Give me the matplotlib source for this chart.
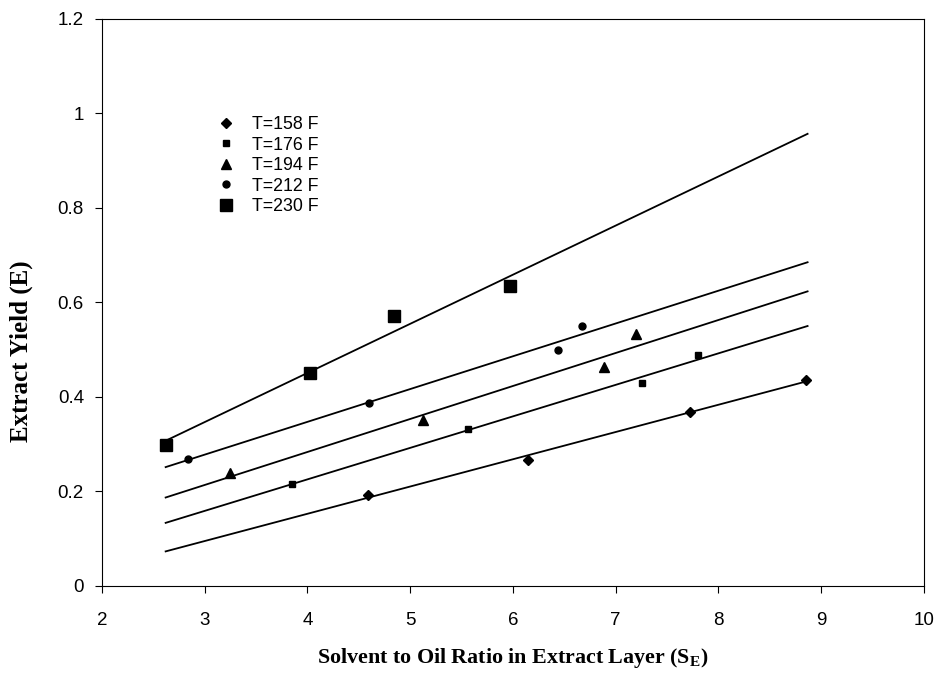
import numpy as np
import matplotlib.pyplot as plt

# data
labels = ['T=158 F', 'T=176 F', 'T=194 F', 'T=212 F', 'T=230 F']
x158 = [4.59, 6.15, 7.73, 8.85]
y158 = [0.193, 0.267, 0.368, 0.436]
x176 = [3.85, 5.56, 7.26, 7.80]
y176 = [0.216, 0.332, 0.430, 0.489]
x194 = [3.25, 5.13, 6.89, 7.20]
y194 = [0.239, 0.351, 0.463, 0.533]
x212 = [2.84, 4.60, 6.44, 6.67]
y212 = [0.269, 0.387, 0.499, 0.550]
x230 = [2.62, 4.03, 4.84, 5.97]
y230 = [0.298, 0.451, 0.571, 0.635]
fit_range = [2.62, 8.87]

series = [(x158, y158), (x176, y176), (x194, y194), (x212, y212), (x230, y230)]
markers = ['D', 's', '^', 'o', 's']
msizes = [5.5, 5, 6.5, 5, 8]

plt.rcParams['font.family'] = ['Liberation Sans', 'DejaVu Sans']
fig = plt.figure(figsize=(9.38, 6.78), dpi=100)
ax = fig.add_axes([0.1087, 0.1357, 0.876, 0.8363])

xl = np.array(fit_range)
for (xs, ys), m, ms, lab in zip(series, markers, msizes, labels):
    ax.plot(xs, ys, linestyle='none', marker=m, markersize=ms, color='black', label=lab)
    # least-squares trend line, as in the original spreadsheet chart
    k, b = np.polyfit(xs, ys, 1)
    ax.plot(xl, k * xl + b, color='black', linewidth=1.3)

ax.set_xlim(2, 10)
ax.set_ylim(0, 1.2)
ax.set_xticks(range(2, 11))
ax.set_yticks([0, 0.2, 0.4, 0.6, 0.8, 1.0, 1.2])
ax.set_yticklabels(['0', '0.2', '0.4', '0.6', '0.8', '1', '1.2'])
ax.tick_params(direction='out', length=5, labelsize=13.5)
ax.tick_params(axis='x', pad=14)
ax.tick_params(axis='y', pad=8)
for s in ax.spines.values():
    s.set_linewidth(0.8)

ax.set_xlabel(r'Solvent to Oil Ratio in Extract Layer (S$_\mathregular{E}$)',
              fontsize=15.8, fontweight='bold', family='Liberation Serif', labelpad=12)
ax.set_ylabel('Extract Yield (E)', fontsize=18, fontweight='bold',
              family='Liberation Serif')
ax.yaxis.set_label_coords(-0.084, 0.414)

ax.legend(loc='upper left', bbox_to_anchor=(217 / 938, 1 - 116 / 678),
          bbox_transform=fig.transFigure, frameon=False, fontsize=12.8,
          handlelength=1.0, handletextpad=0.96, labelspacing=0.2,
          borderpad=0, borderaxespad=0)

fig.savefig('out.png', dpi=100)
